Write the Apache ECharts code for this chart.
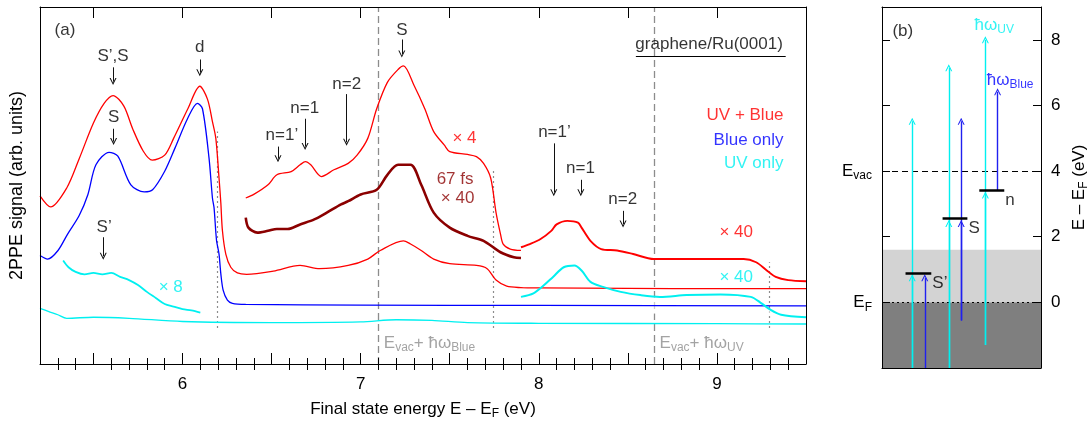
<!DOCTYPE html>
<html><head><meta charset="utf-8">
<script src="https://cdn.jsdelivr.net/npm/echarts@6.0.0/dist/echarts.min.js"></script>
<style>html,body{margin:0;padding:0;background:#fff;}#c{width:1091px;height:425px;}</style>
</head><body><div id="c"></div>
<script>
// ---------- Panel (a) data: final state energy (eV) vs 2PPE signal (arb. units, 0-100 frame) ----------
const uvBlueX = [5.2,5.26,5.35,5.42,5.5,5.56,5.61,5.67,5.72,5.78,5.83,5.9,5.95,6.03,6.097,6.14,6.168,6.187,6.205,6.215,6.224,6.243,6.271,6.308,6.36,6.51,6.66,6.77,6.93,7.04,7.11,7.24,7.28,7.34,7.41,7.5,7.65,7.71,7.76,7.82,7.9,8.0,8.5,9.0,9.5];
const uvBlueY = [47.1,44.0,49.3,57.5,67.5,73.0,75.2,72.3,65.9,59.6,57.1,58.5,63.2,71.5,77.8,74.2,67.9,63.2,52.1,45.2,37.4,30.8,27.1,25.5,25.1,26.0,27.6,26.7,27.6,29.4,31.8,34.5,33.6,31.8,29.4,28.1,27.6,26.7,23.5,21.8,21.4,21.3,21.2,21.1,21.1];

const blueX = [5.2,5.243,5.301,5.355,5.42,5.469,5.514,5.588,5.637,5.71,5.785,5.832,5.9,5.957,6.028,6.084,6.112,6.149,6.168,6.177,6.191,6.205,6.215,6.228,6.252,6.28,6.355,7.0,8.0,9.5];
const blueY = [30.4,29.4,31.8,36.4,41.6,47.5,55.8,59.3,58.2,50.2,48.2,48.8,54.0,60.4,68.7,73.0,71.5,57.6,46.5,43.8,34.6,30.8,25.3,20.7,17.9,17.0,16.7,16.5,16.4,16.3];

const uvX = [5.2,5.25,5.3,5.35,5.5,5.7,6.0,6.5,7.0,7.2,7.4,7.6,8.0,9.0,9.5];
const uvY = [15.6,14.7,13.8,12.8,13.1,12.8,11.9,11.6,11.8,12.4,12.2,11.6,11.4,11.3,11.2];

const uvX8 = [5.33,5.36,5.4,5.45,5.5,5.55,5.6,5.65,5.7,5.75,5.8,5.85,5.9,5.95,6.0,6.05,6.1];
const uvY8 = [29.0,27.1,25.8,25.1,25.5,25.1,25.5,24.4,23.5,22.1,20.2,18.5,16.8,16.1,15.4,15.0,14.4];

const uvBlueX4 = [6.355,6.4,6.48,6.53,6.61,6.66,6.69,6.72,6.78,6.85,6.93,6.98,7.04,7.09,7.15,7.21,7.24,7.3,7.36,7.41,7.47,7.5,7.6,7.65,7.69,7.73,7.76,7.785,7.8,7.84,7.9];
const uvBlueY4 = [46.5,47.5,50.2,53.0,53.9,55.8,56.7,55.8,52.5,54.4,56.2,58.5,63.2,71.5,78.9,82.5,83.5,78.0,71.5,65.1,61.3,59.5,58.7,58.1,56.2,52.1,42.4,36.4,33.6,32.2,31.8];

const delayX = [6.355,6.37,6.42,6.48,6.53,6.59,6.66,6.74,6.81,6.89,6.93,7.0,7.09,7.15,7.21,7.28,7.34,7.41,7.5,7.6,7.69,7.785,7.86,7.9];
const delayY = [41.0,38.2,36.8,37.3,37.8,37.8,39.1,40.5,42.4,44.7,45.6,47.5,48.8,53.0,55.8,55.8,50.2,42.4,38.2,35.9,34.5,31.3,29.9,29.7];

const uvBlueX40 = [7.9,7.95,8.01,8.07,8.1,8.16,8.22,8.24,8.29,8.35,8.44,8.53,8.645,8.8,9.0,9.15,9.22,9.28,9.33,9.4,9.5];
const uvBlueY40 = [32.7,33.6,35.0,37.3,39.1,40.1,39.6,38.2,34.5,32.2,31.8,30.8,29.4,29.4,29.4,29.4,28.5,26.2,24.4,23.5,23.2];

const uvX40 = [7.9,7.97,8.03,8.08,8.14,8.2,8.24,8.29,8.36,8.46,8.57,8.68,8.83,9.02,9.19,9.25,9.3,9.36,9.5];
const uvY40 = [18.8,19.8,22.1,24.4,27.1,27.6,26.2,23.0,21.6,20.2,19.3,18.8,19.3,19.5,18.8,17.0,15.2,13.8,13.1];

// axis ticks (panel a)
const xTickLabels = [6, 7, 8, 9];
const xHalfTicks = [5.5, 6, 6.5, 7, 7.5, 8, 8.5, 9, 9.5];
const xMinorTicks = [5.3,5.4,5.6,5.7,5.8,5.9,6.1,6.2,6.3,6.4,6.6,6.7,6.8,6.9,7.1,7.2,7.3,7.4,7.6,7.7,7.8,7.9,8.1,8.2,8.3,8.4,8.6,8.7,8.8,8.9,9.1,9.2,9.3,9.4];

// annotations (panel a)
const peakText = ["S’,S", "d", "S", "n=1’", "n=1", "n=2", "S", "n=1’", "n=1", "n=2", "S’"];
const peakTextX = [5.61, 6.097, 5.613, 6.558, 6.686, 6.922, 7.231, 8.088, 8.234, 8.471, 5.56];
const peakTextY = [86.1, 88.6, 69.2, 64.1, 71.5, 78.4, 93.6, 65.0, 54.8, 46.1, 38.2];
const peakArrowX = [5.61, 6.097, 5.613, 6.536, 6.688, 6.921, 7.231, 8.084, 8.236, 8.473, 5.555];
const peakArrowY0 = [83.1, 85.3, 65.9, 60.9, 68.7, 75.6, 90.9, 61.8, 51.6, 42.9, 35.5];
const peakArrowY1 = [79.1, 81.6, 62.3, 57.5, 60.9, 62.1, 86.8, 48.0, 48.0, 39.2, 30.2];

const legendText = ["UV + Blue", "Blue only", "UV only"];
const legendY = [69.6, 62.7, 56.2];
const legendX = 9.374;

const scaleText = ["× 4", "67 fs", "× 40", "× 40", "× 40", "× 8"];
const scaleX = [7.583, 7.53, 7.544, 9.108, 9.108, 5.934];
const scaleY = [63.2, 51.8, 46.5, 36.8, 24.4, 21.6];

const dashedX = [7.1, 8.65];
const dashedText = ["{n|E}{s|vac}{n|+ ħω}{s|Blue}", "{n|E}{s|vac}{n|+ ħω}{s|UV}"];
const dashedTextX = [7.13, 8.678];
const dashedTextY = 5.9;
const dottedX = [6.196, 7.744, 9.294];
const dottedTop = [65.1, 54.8, 28.5];
const dottedBottom = 10.1;
const sampleText = "graphene/Ru(0001)";
const sampleX = 8.956, sampleY = 89.5;
const underlineX = [8.545, 9.386], underlineY = 86.1;

// ---------- Panel (b) data: energy diagram, E - E_F (eV) ----------
const bandDark = [-2, 0];
const bandLight = [0, 1.6];
const eVac = 4, eF = 0;
const yTicksB = [0, 2, 4, 6, 8];
const levelNames = ["S’", "S", "n"];
const levelE = [0.9, 2.55, 3.42];
const levelX0 = [1.48, 3.81, 6.12];
const levelX1 = [3.1, 5.37, 7.69];
const uvArrowX = [1.9, 4.2, 6.5];
const uvArrowFrom = [-2, -2, -1.3];
const uvArrowTo = [5.52, 7.15, 8.0];
const uvArrowMid = [0.75, 2.4, 3.27];
const blueArrowX = [2.69, 4.98, 7.27];
const blueArrowFrom = [-2, -0.55, 3.42];
const blueArrowTo = [0.75, 5.52, 6.42];
const blueArrowMid = [null, 2.4, null];

// ---------- styles ----------
const FONT = 'Liberation Sans, Arial, Helvetica, sans-serif';
const FS = 17;
const RED = '#ff0000', BLUE = '#0000ff', CYAN = '#00f0f0', DARKRED = '#8b0000', GRAY = '#8c8c8c';
const RICH = {
  n: {fontSize: FS, fontFamily: FONT, verticalAlign: 'middle'},
  s: {fontSize: 12, fontFamily: FONT, verticalAlign: 'middle', padding: [10, 0, 0, 0]}
};
const CHEVRON = 'path://M0,10 L5,0 L10,10 L8.4,10 L5,3.2 L1.6,10 Z';

const zip = (xs, ys) => xs.map((x, i) => [x, ys[i]]);

function curve(name, xs, ys, color, width, extra) {
  return Object.assign({
    name, type: 'line', xAxisIndex: 0, yAxisIndex: 0, data: zip(xs, ys),
    showSymbol: false, symbol: 'none', smooth: 0.3, animation: false,
    lineStyle: {color, width}, z: 3
  }, extra || {});
}
function textSeries(items, gx, gy, z) {
  return {
    type: 'scatter', xAxisIndex: gx, yAxisIndex: gy, symbolSize: 0, animation: false, silent: true, z: z || 6,
    data: items.map(it => ({
      value: [it.x, it.y],
      label: {show: true, formatter: it.t, color: it.c || '#000', position: it.p || 'inside', distance: 0,
              offset: it.o || [0, 0], fontSize: FS, fontFamily: FONT, rich: RICH}
    }))
  };
}

const colorsLegend = [RED, BLUE, CYAN];
const colorsScale = [RED, DARKRED, DARKRED, RED, CYAN, CYAN];

const option = {
  backgroundColor: '#fff',
  animation: false,
  textStyle: {fontFamily: FONT},
  grid: [
    {left: 39, top: 7, width: 767, height: 361},
    {left: 882, top: 7, width: 160, height: 361}
  ],
  xAxis: [
    {gridIndex: 0, type: 'value', min: 5.2, max: 9.5, position: 'bottom', z: 10,
     axisLine: {show: true, onZero: false, lineStyle: {color: '#000', width: 1}},
     axisTick: {show: true, inside: true, length: 11, customValues: xHalfTicks, lineStyle: {color: '#000'}},
     axisLabel: {show: true, customValues: xTickLabels, fontSize: FS, color: '#000', margin: 12, fontFamily: FONT},
     splitLine: {show: false},
     name: '{n|Final state energy E – E}{s|F}{n| (eV)}', nameLocation: 'middle', nameGap: 34,
     nameTextStyle: {color: '#000', fontSize: FS, fontFamily: FONT, rich: RICH}},
    {gridIndex: 0, type: 'value', min: 5.2, max: 9.5, position: 'bottom', z: 10,
     axisLine: {show: false}, axisLabel: {show: false}, splitLine: {show: false},
     axisTick: {show: true, inside: true, length: 6, customValues: xMinorTicks, lineStyle: {color: '#000'}}},
    {gridIndex: 0, type: 'value', min: 5.2, max: 9.5, position: 'top', z: 10,
     axisLine: {show: true, onZero: false, lineStyle: {color: '#000', width: 1}}, axisLabel: {show: false}, splitLine: {show: false},
     axisTick: {show: true, inside: true, length: 11, customValues: xHalfTicks, lineStyle: {color: '#000'}}},
    {gridIndex: 0, type: 'value', min: 5.2, max: 9.5, position: 'top', z: 10,
     axisLine: {show: false}, axisLabel: {show: false}, splitLine: {show: false},
     axisTick: {show: true, inside: true, length: 6, customValues: xMinorTicks, lineStyle: {color: '#000'}}},
    {gridIndex: 1, type: 'value', min: 0, max: 10, position: 'bottom', z: 10,
     axisLine: {show: true, onZero: false, lineStyle: {color: '#000', width: 1}}, axisTick: {show: false}, axisLabel: {show: false}, splitLine: {show: false}},
    {gridIndex: 1, type: 'value', min: 0, max: 10, position: 'top', z: 10,
     axisLine: {show: true, onZero: false, lineStyle: {color: '#000', width: 1}}, axisTick: {show: false}, axisLabel: {show: false}, splitLine: {show: false}}
  ],
  yAxis: [
    {gridIndex: 0, type: 'value', min: 0, max: 100, position: 'left', z: 10,
     axisLine: {show: true, onZero: false, lineStyle: {color: '#000', width: 1}}, axisTick: {show: false}, axisLabel: {show: false}, splitLine: {show: false},
     name: '2PPE signal (arb. units)', nameLocation: 'middle', nameGap: 14,
     nameTextStyle: {color: '#000', fontSize: 18, fontFamily: FONT}},
    {gridIndex: 0, type: 'value', min: 0, max: 100, position: 'right', z: 10,
     axisLine: {show: true, onZero: false, lineStyle: {color: '#000', width: 1}}, axisTick: {show: false}, axisLabel: {show: false}, splitLine: {show: false}},
    {gridIndex: 1, type: 'value', min: -2, max: 9, position: 'right', z: 10,
     axisLine: {show: true, onZero: false, lineStyle: {color: '#000', width: 1}},
     axisTick: {show: true, inside: true, length: 8, customValues: yTicksB, lineStyle: {color: '#000'}},
     axisLabel: {show: true, customValues: yTicksB, fontSize: FS, color: '#000', margin: 10, fontFamily: FONT},
     splitLine: {show: false},
     name: '{n|E – E}{s|F}{n| (eV)}', nameLocation: 'middle', nameGap: 27,
     nameTextStyle: {color: '#000', fontSize: FS, fontFamily: FONT, rich: RICH}},
    {gridIndex: 1, type: 'value', min: -2, max: 9, position: 'left', z: 10,
     axisLine: {show: true, onZero: false, lineStyle: {color: '#000', width: 1}},
     axisTick: {show: true, inside: true, length: 8, customValues: yTicksB, lineStyle: {color: '#000'}},
     axisLabel: {show: false}, splitLine: {show: false}}
  ],
  series: [
    // vertical reference lines (panel a)
    {type: 'lines', coordinateSystem: 'cartesian2d', xAxisIndex: 0, yAxisIndex: 0, z: 2, silent: true, animation: false,
     lineStyle: {color: GRAY, width: 1.3, type: [7, 4], opacity: 1},
     data: dashedX.map(x => ({coords: [[x, 0], [x, 100]]}))},
    {type: 'lines', coordinateSystem: 'cartesian2d', xAxisIndex: 0, yAxisIndex: 0, z: 2, silent: true, animation: false,
     lineStyle: {color: GRAY, width: 1.2, type: [2, 3], opacity: 1},
     data: dottedX.map((x, i) => ({coords: [[x, dottedBottom], [x, dottedTop[i]]]}))},
    // spectra
    curve('UV only', uvX, uvY, CYAN, 1.3),
    curve('Blue only', blueX, blueY, BLUE, 1.3),
    curve('UV + Blue', uvBlueX, uvBlueY, RED, 1.3),
    curve('UV only x8', uvX8, uvY8, CYAN, 1.8),
    curve('67 fs x40', delayX, delayY, DARKRED, 2.6),
    curve('UV + Blue x4', uvBlueX4, uvBlueY4, RED, 1.3),
    curve('UV + Blue x40', uvBlueX40, uvBlueY40, RED, 1.9),
    curve('UV only x40', uvX40, uvY40, CYAN, 2.0,
          {areaStyle: {color: 'rgba(255,255,255,0.8)', origin: 14}}),
    // peak arrows
    {type: 'lines', coordinateSystem: 'cartesian2d', xAxisIndex: 0, yAxisIndex: 0, z: 5, silent: true, animation: false,
     symbol: ['none', CHEVRON], symbolSize: 7,
     lineStyle: {color: '#111', width: 1, opacity: 1},
     data: peakArrowX.map((x, i) => ({coords: [[x, peakArrowY0[i]], [x, peakArrowY1[i]]]}))},
    // underline of sample name
    {type: 'lines', coordinateSystem: 'cartesian2d', xAxisIndex: 0, yAxisIndex: 0, z: 5, silent: true, animation: false,
     lineStyle: {color: '#000', width: 1.2, opacity: 1},
     data: [{coords: [[underlineX[0], underlineY], [underlineX[1], underlineY]]}]},
    // texts panel a
    textSeries([{x: 5.34, y: 93.6, t: '(a)'}]
      .concat(peakText.map((t, i) => ({x: peakTextX[i], y: peakTextY[i], t})))
      .concat(legendText.map((t, i) => ({x: legendX, y: legendY[i], t, c: colorsLegend[i], p: 'left'})))
      .concat(scaleText.map((t, i) => ({x: scaleX[i], y: scaleY[i], t, c: colorsScale[i]})))
      .concat(dashedText.map((t, i) => ({x: dashedTextX[i], y: dashedTextY, t, c: GRAY, p: 'right'})))
      .concat([{x: sampleX, y: sampleY, t: sampleText}]), 0, 0),

    // ---------- panel b ----------
    {type: 'line', xAxisIndex: 4, yAxisIndex: 2, data: [[0, eF]], symbol: 'none', lineStyle: {width: 0}, z: 1, silent: true, animation: false,
     markArea: {silent: true, data: [
       [{yAxis: bandDark[0], itemStyle: {color: '#7f7f7f'}}, {yAxis: bandDark[1]}],
       [{yAxis: bandLight[0], itemStyle: {color: '#d3d3d3'}}, {yAxis: bandLight[1]}]
     ]},
     markLine: {silent: true, symbol: ['none', 'none'], animation: false, data: [
       {yAxis: eVac, lineStyle: {color: '#000', width: 1.1, type: [6, 4]},
        label: {show: true, position: 'start', distance: 10, formatter: '{n|E}{s|vac}', color: '#000', rich: RICH}},
       {yAxis: eF, lineStyle: {color: '#000', width: 1.1, type: [2, 3]},
        label: {show: true, position: 'start', distance: 10, formatter: '{n|E}{s|F}', color: '#000', rich: RICH}}
     ]}},
    // UV arrows
    {type: 'lines', coordinateSystem: 'cartesian2d', xAxisIndex: 4, yAxisIndex: 2, z: 5, silent: true, animation: false,
     symbol: ['none', CHEVRON], symbolSize: 7,
     lineStyle: {color: CYAN, width: 1.4, opacity: 1},
     data: uvArrowX.map((x, i) => ({coords: [[x, uvArrowFrom[i]], [x, uvArrowTo[i]]]}))
       .concat(uvArrowX.map((x, i) => ({coords: [[x, uvArrowFrom[i]], [x, uvArrowMid[i]]]})))},
    // Blue arrows
    {type: 'lines', coordinateSystem: 'cartesian2d', xAxisIndex: 4, yAxisIndex: 2, z: 5, silent: true, animation: false,
     symbol: ['none', CHEVRON], symbolSize: 7,
     lineStyle: {color: '#2020f0', width: 1.4, opacity: 1},
     data: blueArrowX.map((x, i) => ({coords: [[x, blueArrowFrom[i]], [x, blueArrowTo[i]]]}))
       .concat(blueArrowX.map((x, i) => blueArrowMid[i] === null ? null : ({coords: [[x, blueArrowFrom[i]], [x, blueArrowMid[i]]]})).filter(d => d))},
    // levels
    {type: 'lines', coordinateSystem: 'cartesian2d', xAxisIndex: 4, yAxisIndex: 2, z: 6, silent: true, animation: false,
     lineStyle: {color: '#000', width: 2.6, opacity: 1},
     data: levelE.map((e, i) => ({coords: [[levelX0[i], e], [levelX1[i], e]]}))},
    // texts panel b
    textSeries([
      {x: 1.31, y: 8.27, t: '(b)'},
      {x: 7.06, y: 8.45, t: '{n|ħω}{s|UV}', c: CYAN},
      {x: 8.06, y: 6.78, t: '{n|ħω}{s|Blue}', c: BLUE}
    ].concat(levelNames.map((t, i) => ({x: levelX1[i], y: levelE[i], t, p: 'right', o: [1, 10]}))), 4, 2, 7)
  ]
};

const chart = echarts.init(document.getElementById('c'), null, {renderer: 'canvas'});
chart.setOption(option);
</script>
</body></html>
